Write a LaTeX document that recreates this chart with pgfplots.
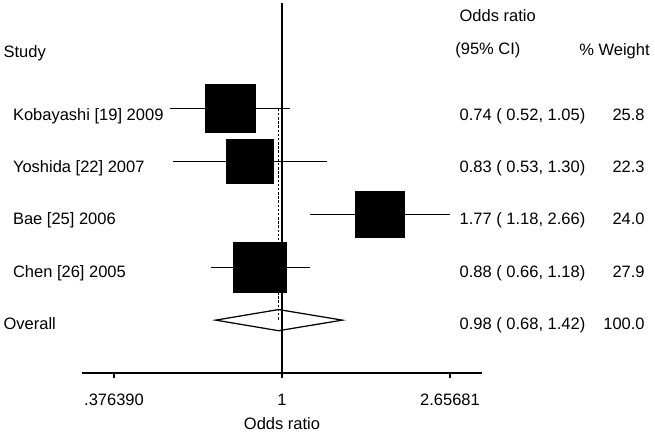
\documentclass[border=0pt]{standalone}
\usepackage{fontspec}
\setmainfont{Liberation Sans}
\usepackage{pgfplots}
\usepackage{pgfplotstable}
\pgfplotsset{compat=1.18}

% odds ratio, weight and row of each study
\pgfplotstableread{
or   w    y
0.74 25.8 5
0.83 22.3 4
1.77 24.0 3
0.88 27.9 2
}\studies

% confidence intervals, one segment per study
\pgfplotstableread{
x    y
0.52 5
1.05 5
nan  nan
0.53 4
1.30 4
nan  nan
1.18 3
2.66 3
nan  nan
0.66 2
1.18 2
}\cis

\newcommand\f{\fontsize{9.9}{12}\selectfont}

\begin{document}
\begin{tikzpicture}[font=\f]
\begin{axis}[
	scale only axis,
	width=240pt, height=222pt,
	xmode=log,
	xmin=0.3124, xmax=3.2,
	ymin=0, ymax=7,
	clip=false,
	axis x line*=bottom,
	axis y line=none,
	x axis line style={draw=none},
	ytick=\empty,
	xtick={0.37639,1,2.65681},
	xticklabels={},
	xtick align=outside,
	major tick length=3pt,
	every tick/.style={black, line width=0.75pt},
]

% x axis line
\addplot[black, line width=0.75pt] coordinates {(0.3124,0) (3.2,0)};

% overall estimate
\addplot[draw=black, fill=white, line width=0.75pt] coordinates {
	(0.68,1) (0.98,1.2) (1.42,1) (0.98,0.8)
} --cycle;

% line of no effect and overall estimate
\addplot[black, line width=0.75pt] coordinates {(1,0) (1,7)};
\addplot[black, line width=0.9pt, dash pattern=on 1.5pt off 1pt] coordinates {(0.98,5) (0.98,1)};

% confidence intervals
\addplot[black, line width=0.75pt, unbounded coords=jump] table {\cis};

% study boxes, area by weight
\addplot[
	scatter, only marks,
	mark=square*,
	scatter/use mapped color={draw=black, fill=black},
	mark options={xscale=1.055, line width=0pt},
	visualization depends on={2.82*sqrt(\thisrow{w}) \as \msize},
	scatter/@pre marker code/.append style={/tikz/mark size=\msize},
] table[x=or, y=y] {\studies};

% headers
\node[anchor=base west, inner sep=0] at (rel axis cs:-0.1968,0.854) {Study};
\node[anchor=base west, inner sep=0] at (rel axis cs:0.9433,0.9495) {Odds ratio};
\node[anchor=base west, inner sep=0] at (rel axis cs:0.9325,0.8595) {(95\% CI)};
\node[anchor=base east, inner sep=0] at (rel axis cs:1.42,0.8568) {\% Weight};

% study names
\node[anchor=base west, inner sep=0] at (rel axis cs:-0.17325,0.6824) {Kobayashi [19] 2009};
\node[anchor=base west, inner sep=0] at (rel axis cs:-0.17325,0.5414) {Yoshida [22] 2007};
\node[anchor=base west, inner sep=0] at (rel axis cs:-0.17325,0.4) {Bae [25] 2006};
\node[anchor=base west, inner sep=0] at (rel axis cs:-0.17325,0.2586) {Chen [26] 2005};
\node[anchor=base west, inner sep=0] at (rel axis cs:-0.19675,0.1181) {Overall};

% estimates
\node[anchor=base west, inner sep=0] at (rel axis cs:0.94325,0.6824) {0.74 ( 0.52, 1.05)};
\node[anchor=base west, inner sep=0] at (rel axis cs:0.94325,0.5414) {0.83 ( 0.53, 1.30)};
\node[anchor=base west, inner sep=0] at (rel axis cs:0.94325,0.4) {1.77 ( 1.18, 2.66)};
\node[anchor=base west, inner sep=0] at (rel axis cs:0.94325,0.2586) {0.88 ( 0.66, 1.18)};
\node[anchor=base west, inner sep=0] at (rel axis cs:0.94325,0.1181) {0.98 ( 0.68, 1.42)};

% weights
\node[anchor=base east, inner sep=0] at (rel axis cs:1.4075,0.6824) {25.8};
\node[anchor=base east, inner sep=0] at (rel axis cs:1.4075,0.5414) {22.3};
\node[anchor=base east, inner sep=0] at (rel axis cs:1.4075,0.4) {24.0};
\node[anchor=base east, inner sep=0] at (rel axis cs:1.4075,0.2586) {27.9};
\node[anchor=base east, inner sep=0] at (rel axis cs:1.4075,0.1181) {100.0};

% tick labels and axis label
\node[anchor=base, inner sep=0] at ({axis cs:0.37639,0} |- {rel axis cs:0,-0.0878}) {.376390};
\node[anchor=base, inner sep=0] at ({axis cs:1,0} |- {rel axis cs:0,-0.0878}) {1};
\node[anchor=base, inner sep=0] at ({axis cs:2.65681,0} |- {rel axis cs:0,-0.0878}) {2.65681};
\node[anchor=base, inner sep=0] at ({axis cs:1,0} |- {rel axis cs:0,-0.1527}) {Odds ratio};

\coordinate (ll) at (rel axis cs:-0.205,-0.16216);
\coordinate (ur) at (rel axis cs:1.4325,1.00811);
\end{axis}
\pgfresetboundingbox
\path[use as bounding box] (ll) rectangle (ur);
\end{tikzpicture}
\end{document}
